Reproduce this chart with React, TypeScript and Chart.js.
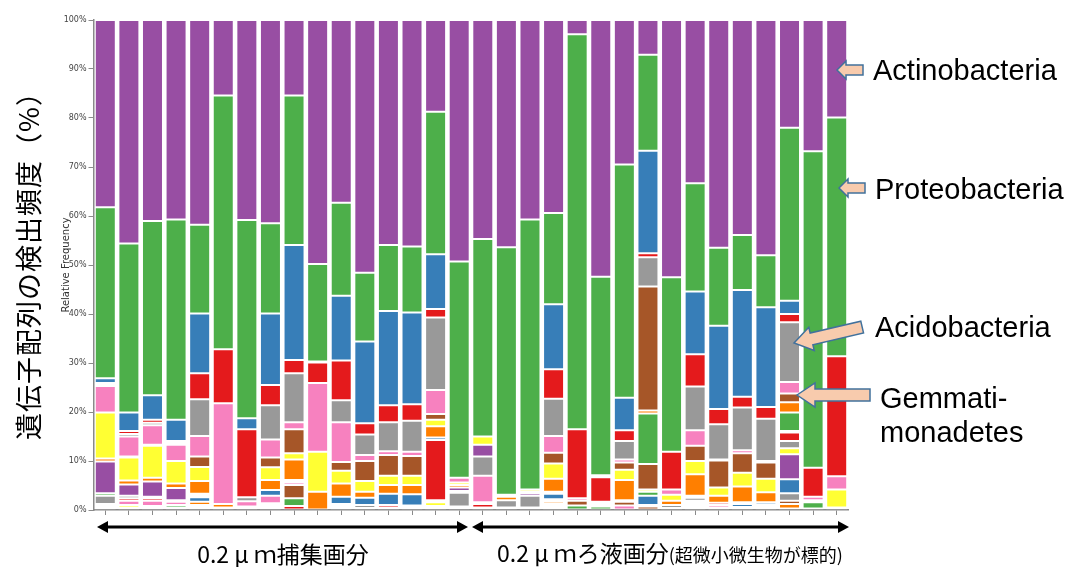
import React, { useEffect, useRef } from "react";
import { Chart, registerables } from "chart.js";

Chart.register(...registerables);

// 32 samples: 16 from the 0.2 µm filter-captured fraction, 16 from the 0.2 µm filtrate
const samples = [
  "F01", "F02", "F03", "F04", "F05", "F06", "F07", "F08",
  "F09", "F10", "F11", "F12", "F13", "F14", "F15", "F16",
  "P01", "P02", "P03", "P04", "P05", "P06", "P07", "P08",
  "P09", "P10", "P11", "P12", "P13", "P14", "P15", "P16",
];

const yTicks = [0, 10, 20, 30, 40, 50, 60, 70, 80, 90, 100];

// Relative frequency (%) per taxon, listed from the top of the stack downwards
const actinobacteria = [38.2, 45.6, 41.0, 40.7, 41.8, 15.4, 40.8, 41.5, 15.4, 49.8, 37.3, 51.6, 45.9, 46.2, 18.7, 49.3, 44.7, 46.4, 40.7, 39.4, 2.9, 52.4, 29.5, 7.1, 52.5, 33.3, 46.5, 43.9, 48.0, 22.0, 26.8, 19.9];
const proteobacteria = [34.9, 34.5, 35.6, 40.9, 18.1, 51.8, 40.5, 18.4, 30.5, 19.9, 19.0, 14.0, 13.5, 13.5, 29.1, 44.1, 40.3, 50.5, 55.1, 18.6, 80.6, 40.5, 47.6, 19.6, 35.6, 22.1, 15.9, 11.2, 10.6, 35.3, 64.6, 48.7];
const taxonBlue = [1.0, 3.8, 5.0, 4.3, 12.2, 0, 2.2, 14.6, 23.5, 0.2, 13.2, 16.7, 19.2, 18.7, 11.2, 0, 0, 0, 0, 13.3, 0, 0.4, 6.6, 20.9, 0, 12.8, 17.0, 21.8, 20.4, 2.7, 0, 0];
const taxonRed = [0.3, 0.6, 0.6, 0.4, 5.3, 11.0, 13.9, 4.1, 2.7, 4.2, 8.1, 2.3, 3.5, 3.4, 1.7, 0, 0, 0, 0, 6.0, 14.1, 5.0, 2.2, 0.8, 7.7, 6.6, 3.1, 2.2, 2.4, 1.7, 5.9, 24.5];
const acidobacteria = [0.3, 0.5, 0.5, 0.4, 7.5, 0, 0.8, 7.0, 10.0, 0, 4.5, 4.2, 5.9, 6.3, 14.8, 0, 0, 0, 0, 7.6, 0, 0, 3.8, 6.0, 0, 8.9, 7.2, 8.7, 8.6, 12.2, 0, 0];
const taxonPink = [5.4, 4.1, 4.0, 3.3, 4.2, 20.6, 1.1, 3.7, 1.4, 14.0, 8.1, 1.2, 0.8, 0.9, 4.9, 1.0, 0, 0, 0, 3.4, 0.5, 0.3, 0.6, 0, 1.1, 3.2, 0.2, 0.6, 0.3, 2.3, 0.7, 2.7];
const gemmatimonadetes = [0, 0.2, 0.2, 0, 2.1, 0, 0, 2.0, 4.9, 0, 1.8, 4.1, 4.2, 4.0, 1.2, 0, 0, 0, 0, 2.2, 1.0, 0.3, 1.5, 25.3, 0, 3.1, 5.5, 4.0, 3.3, 1.8, 0, 0];
const taxonYellow = [9.4, 4.7, 6.5, 4.6, 2.9, 0, 0.3, 2.6, 1.3, 8.2, 2.6, 2.2, 1.9, 1.9, 1.3, 0.5, 1.7, 0.4, 0.5, 3.1, 0, 0.4, 2.1, 0, 1.2, 2.7, 1.7, 2.8, 2.8, 0, 0.4, 3.7];
const taxonOrange = [0.6, 0.8, 0.8, 0.9, 2.6, 0.7, 0.4, 2.0, 4.2, 3.6, 2.7, 1.2, 1.8, 1.9, 2.3, 0.5, 0, 0.7, 0.3, 2.7, 0, 0, 4.1, 0.6, 0.9, 4.4, 1.4, 3.2, 2.0, 2.1, 0, 0.5];
const minorPurple = [6.5, 2.3, 3.1, 2.5, 0.4, 0, 0, 0, 0, 0, 0, 0, 0, 0, 0, 0.7, 2.4, 0, 0.5, 0, 0, 0, 0, 0, 0, 0, 0, 0, 0, 0, 0, 0];
const minorGreen = [0.5, 0, 0, 0, 0.3, 0, 0, 0, 0.3, 0, 0, 0, 0, 0, 0, 0.4, 0, 0, 0, 0.4, 0.9, 0.7, 0, 10.3, 0, 0.4, 0, 0.4, 0, 3.8, 1.3, 0];
const minorBlue = [0, 0, 0, 0, 0.9, 0, 0, 1.2, 0.2, 0, 1.5, 1.5, 2.3, 2.3, 0.5, 0, 0, 0, 0, 1.1, 0, 0, 0, 0, 0, 0, 0, 0.6, 0.5, 0.3, 0, 0];
const minorRed = [0, 0, 0, 0, 0, 0, 0, 0, 0, 0, 0, 0, 0.5, 0.4, 12.3, 0, 0, 0, 0, 0, 0, 0, 0, 0, 0, 0, 0.5, 0.3, 0.3, 1.7, 0, 0];
const minorGray = [1.7, 0.5, 0.3, 0.3, 0, 0, 0, 0, 0, 0, 0, 0.6, 0, 0, 0, 2.8, 3.9, 1.5, 2.4, 0, 0, 0, 0.3, 0, 0.6, 0.6, 0, 0, 0, 1.5, 0.3, 0];
const minorPink = [0.4, 0, 0, 0.7, 0, 0.5, 0, 1.5, 0.5, 0, 0.4, 0.2, 0, 0, 0.4, 0.3, 5.4, 0, 0, 0.3, 0, 0, 0, 0, 0, 0.4, 0.5, 0, 0, 0, 0, 0];
const minorBrown = [0, 0, 0, 0, 0, 0, 0, 0.4, 2.7, 0, 0, 0, 0, 0, 0, 0, 0, 0, 0, 0.2, 0, 0, 0.8, 5.2, 0, 0, 0, 0, 0, 0, 0, 0];
const minorYellow = [0.3, 0, 0, 0, 0, 0, 0, 0.3, 0, 0, 0.4, 0, 0, 0, 0.8, 0.4, 0.4, 0, 0, 0, 0, 0, 0, 0.5, 0, 0.4, 0, 0, 0.4, 1.2, 0, 0];
const minorOrange = [0.2, 0, 0, 0, 0.7, 0, 0, 0.2, 0, 0, 0, 0, 0, 0, 0, 0, 0, 0, 0, 0.5, 0, 0, 0, 0, 0, 0.3, 0, 0.3, 0.4, 0, 0, 0];
const tracePurple = [0, 0, 0, 0, 0, 0, 0, 0, 0, 0, 0, 0, 0, 0, 0.4, 0, 0, 0, 0, 0, 0, 0, 0, 0, 0, 0, 0, 0, 0, 5.1, 0, 0];
const traceGreen = [0, 0, 0, 0.5, 0, 0, 0, 0.5, 1.6, 0, 0.4, 0.2, 0.5, 0.5, 0, 0, 0, 0, 0, 0.4, 0, 0, 0, 0.8, 0, 0, 0, 0, 0, 0, 0, 0];
const traceBlue = [0, 0, 0, 0, 0, 0, 0, 0, 0, 0, 0, 0, 0, 0, 0, 0, 0, 0, 0, 0, 0, 0, 0, 1.9, 0, 0.4, 0, 0, 0, 2.9, 0, 0];
const traceRed = [0, 0.5, 0.5, 0, 0, 0, 0, 0, 0, 0, 0, 0, 0, 0, 0, 0, 0.7, 0, 0, 0, 0, 0, 0, 0.3, 0, 0, 0, 0, 0, 0, 0, 0];
const traceGray = [0, 0, 0, 0, 0, 0, 0, 0, 0, 0, 0, 0, 0, 0, 0.4, 0, 0, 0, 0, 0, 0, 0, 0, 0, 0, 0, 0, 0, 0, 1.5, 0, 0];
const tracePink = [0, 0.9, 1.1, 0, 0.3, 0, 0, 0, 0, 0, 0, 0, 0, 0, 0, 0, 0.5, 0, 0, 0, 0, 0, 0.9, 0, 0, 0, 0, 0, 0, 0, 0, 0];
const traceBrown = [0, 0, 0, 0, 0, 0, 0, 0, 0, 0, 0, 0, 0, 0, 0, 0, 0, 0, 0, 0, 0, 0, 0, 0.7, 0, 0, 0, 0, 0, 0.7, 0, 0];
const traceYellow = [0, 0.5, 0.3, 0, 0.4, 0, 0, 0, 0, 0, 0, 0, 0, 0, 0, 0, 0, 0, 0, 0.4, 0, 0, 0, 0, 0, 0, 0.5, 0, 0, 0, 0, 0];
const traceOrange = [0, 0, 0, 0, 0, 0, 0, 0, 0, 0, 0, 0, 0, 0, 0, 0, 0, 0, 0, 0, 0, 0, 0, 0, 0, 0, 0, 0, 0, 0.9, 0, 0];
const baseRed = [0.3, 0.5, 0.5, 0.5, 0.3, 0, 0, 0, 0.8, 0.1, 0, 0, 0, 0, 0, 0, 0, 0.5, 0.5, 0.4, 0, 0, 0, 0, 0.4, 0.4, 0, 0, 0, 0.3, 0, 0];

const PURPLE = "#984EA3";
const GREEN = "#4DAF4A";
const BLUE = "#377EB8";
const RED = "#E41A1C";
const GRAY = "#999999";
const PINK = "#F781BF";
const BROWN = "#A65628";
const YELLOW = "#FFFF33";
const ORANGE = "#FF7F00";

// top of stack first
const layers: { label: string; data: number[]; color: string }[] = [
  { label: "Actinobacteria", data: actinobacteria, color: PURPLE },
  { label: "Proteobacteria", data: proteobacteria, color: GREEN },
  { label: "Taxon (blue)", data: taxonBlue, color: BLUE },
  { label: "Taxon (red)", data: taxonRed, color: RED },
  { label: "Acidobacteria", data: acidobacteria, color: GRAY },
  { label: "Taxon (pink)", data: taxonPink, color: PINK },
  { label: "Gemmatimonadetes", data: gemmatimonadetes, color: BROWN },
  { label: "Taxon (yellow)", data: taxonYellow, color: YELLOW },
  { label: "Taxon (orange)", data: taxonOrange, color: ORANGE },
  { label: "Minor (purple)", data: minorPurple, color: PURPLE },
  { label: "Minor (green)", data: minorGreen, color: GREEN },
  { label: "Minor (blue)", data: minorBlue, color: BLUE },
  { label: "Minor (red)", data: minorRed, color: RED },
  { label: "Minor (gray)", data: minorGray, color: GRAY },
  { label: "Minor (pink)", data: minorPink, color: PINK },
  { label: "Minor (brown)", data: minorBrown, color: BROWN },
  { label: "Minor (yellow)", data: minorYellow, color: YELLOW },
  { label: "Minor (orange)", data: minorOrange, color: ORANGE },
  { label: "Trace (purple)", data: tracePurple, color: PURPLE },
  { label: "Trace (green)", data: traceGreen, color: GREEN },
  { label: "Trace (blue)", data: traceBlue, color: BLUE },
  { label: "Trace (red)", data: traceRed, color: RED },
  { label: "Trace (gray)", data: traceGray, color: GRAY },
  { label: "Trace (pink)", data: tracePink, color: PINK },
  { label: "Trace (brown)", data: traceBrown, color: BROWN },
  { label: "Trace (yellow)", data: traceYellow, color: YELLOW },
  { label: "Trace (orange)", data: traceOrange, color: ORANGE },
  { label: "Trace (red, base)", data: baseRed, color: RED },
];

const annotations = [
  { text: ["Actinobacteria"], x: 873, y: 70 },
  { text: ["Proteobacteria"], x: 875, y: 189 },
  { text: ["Acidobacteria"], x: 875, y: 327 },
  { text: ["Gemmati-", "monadetes"], x: 880, y: 398 },
];

function blockArrow(len: number, headLen: number, headHalf: number, shaftHalf: number) {
  return `M0,0 L${headLen},${-headHalf} L${headLen},${-shaftHalf} L${len},${-shaftHalf} L${len},${shaftHalf} L${headLen},${shaftHalf} L${headLen},${headHalf} Z`;
}

export default function App() {
  const canvasRef = useRef<HTMLCanvasElement | null>(null);

  useEffect(() => {
    if (!canvasRef.current) return;
    const datasets = [...layers].reverse().map((l) => ({
      label: l.label,
      data: l.data.map((v) => (v === 0 ? null : v)),
      backgroundColor: l.color,
      borderColor: "rgba(255,255,255,0.45)",
      borderWidth: 1,
      borderSkipped: false as const,
      barPercentage: 0.89,
      categoryPercentage: 1.0,
    }));
    const chart = new Chart(canvasRef.current, {
      type: "bar",
      data: { labels: samples, datasets },
      options: {
        animation: false,
        responsive: false,
        maintainAspectRatio: false,
        layout: { padding: { left: 58, right: 217.5, top: 20, bottom: 0 } },
        plugins: { legend: { display: false }, tooltip: { enabled: false } },
        scales: {
          x: {
            stacked: true,
            ticks: { display: false },
            grid: {
              display: true,
              drawOnChartArea: false,
              drawTicks: true,
              tickLength: 5,
              offset: false,
              color: "#8a8a8a",
              lineWidth: 1,
            },
            border: { display: true, color: "#8a8a8a", width: 1.5 },
            afterFit: (scale: any) => {
              scale.height = 57;
            },
          },
          y: {
            stacked: true,
            min: 0,
            max: 100,
            afterBuildTicks: (scale: any) => {
              scale.ticks = yTicks.map((v) => ({ value: v }));
            },
            ticks: {
              callback: (v: any) => `${v}%`,
              font: { family: "DejaVu Sans", size: 8 },
              color: "#444",
              padding: 2,
            },
            grid: {
              display: true,
              drawOnChartArea: false,
              drawTicks: true,
              tickLength: 5,
              color: "#8a8a8a",
            },
            border: { display: true, color: "#8a8a8a", width: 1.5 },
            title: {
              display: true,
              text: "Relative Frequency",
              font: { family: "DejaVu Sans", size: 10 },
              color: "#333",
              padding: { top: 2, bottom: 2 },
            },
            afterFit: (scale: any) => {
              scale.width = 35.5;
            },
          },
        },
      },
    });
    return () => chart.destroy();
  }, []);

  const arrowFill = "#F8CBAD";
  const arrowStroke = "#41719C";

  return (
    <div
      style={{
        position: "absolute",
        left: 0,
        top: 0,
        width: 1066,
        height: 567,
        background: "#fff",
        overflow: "hidden",
      }}
    >
      <canvas ref={canvasRef} width={1066} height={567} style={{ position: "absolute", left: 0, top: 0 }} />
      <svg
        width={1066}
        height={567}
        style={{ position: "absolute", left: 0, top: 0, pointerEvents: "none" }}
      >
        <g fill={arrowFill} stroke={arrowStroke} strokeWidth={1.5} strokeLinejoin="miter">
          <path d={blockArrow(26, 9, 9, 5)} transform="translate(837,70)" />
          <path d={blockArrow(26, 9, 9, 5)} transform="translate(839,188)" />
          <path d={blockArrow(70, 18, 12, 6)} transform="translate(794,343) rotate(-13.2)" />
          <path d={blockArrow(73, 18, 12, 6)} transform="translate(797,395)" />
        </g>
        <g stroke="#000" strokeWidth={3} fill="#000">
          <line x1={105} y1={527} x2={460} y2={527} />
          <path d="M97,527 L108,521 L108,533 Z" stroke="none" />
          <path d="M468,527 L457,521 L457,533 Z" stroke="none" />
          <line x1={480} y1={527} x2={841} y2={527} />
          <path d="M472,527 L483,521 L483,533 Z" stroke="none" />
          <path d="M849,527 L838,521 L838,533 Z" stroke="none" />
        </g>
      </svg>
      {annotations.map((a, i) => (
        <div
          key={i}
          style={{
            position: "absolute",
            left: a.x,
            top: a.y - 17,
            fontFamily: "'Liberation Sans', Arial, sans-serif",
            fontSize: 29,
            lineHeight: "34px",
            color: "#000",
            whiteSpace: "nowrap",
          }}
        >
          {a.text.map((t, j) => (
            <div key={j}>{t}</div>
          ))}
        </div>
      ))}
      <div
        style={{
          position: "absolute",
          left: 28,
          top: 259,
          transform: "translate(-50%, -50%) rotate(-90deg)",
          fontFamily: "'Noto Sans CJK JP', sans-serif",
          fontSize: 27,
          lineHeight: "30px",
          letterSpacing: "1px",
          color: "#000",
          whiteSpace: "nowrap",
        }}
      >
        遺伝子配列の検出頻度（%）
      </div>
      <div
        style={{
          position: "absolute",
          left: 283,
          top: 553,
          transform: "translate(-50%, -50%)",
          fontFamily: "'Noto Sans CJK JP', sans-serif",
          fontSize: 23,
          lineHeight: "28px",
          color: "#000",
          whiteSpace: "nowrap",
        }}
      >
        0.2 μ ｍ捕集画分
      </div>
      <div
        style={{
          position: "absolute",
          left: 670,
          top: 553,
          transform: "translate(-50%, -50%)",
          fontFamily: "'Noto Sans CJK JP', sans-serif",
          fontSize: 23,
          lineHeight: "28px",
          color: "#000",
          whiteSpace: "nowrap",
        }}
      >
        0.2 μ ｍろ液画分<span style={{ fontSize: 18 }}>(超微小微生物が標的)</span>
      </div>
    </div>
  );
}
